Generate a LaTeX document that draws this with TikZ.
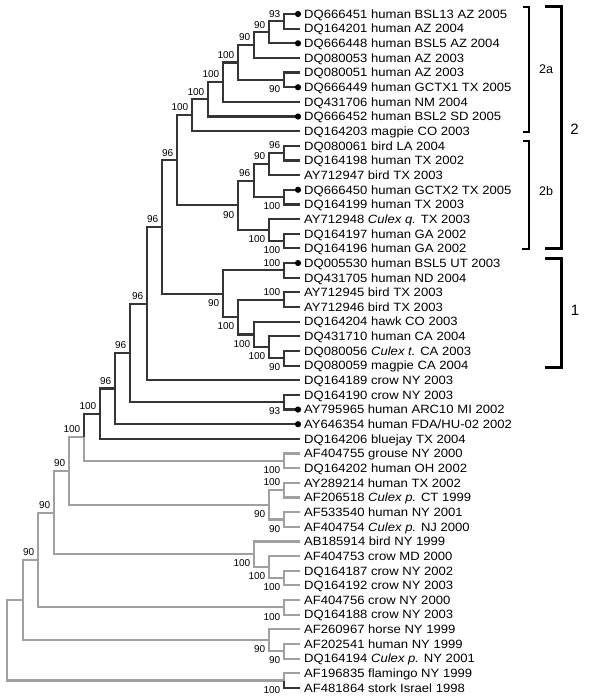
\documentclass[tikz,border=0pt]{standalone}
\usepackage{fontspec}
\setmainfont{Liberation Sans}
\newfontfamily\leaffont[FakeStretch=1.09]{Liberation Sans}
\usetikzlibrary{positioning}
\definecolor{wnline}{HTML}{353535}
\definecolor{nyline}{HTML}{A0A0A0}

\begin{document}
\begin{tikzpicture}[x=1pt,y=-1pt,
  dk/.style={draw=wnline,line width=2.2pt},
  gy/.style={draw=nyline,line width=2.2pt},
  leaf/.style={font=\fontsize{12}{12}\selectfont\leaffont,text height=8.6pt,text depth=0pt,right=4pt of #1},
  ba/.style={font=\fontsize{10}{10}\selectfont,above left=4pt and 3.5pt of #1},
  bb/.style={font=\fontsize{10}{10}\selectfont,below left=5.5pt and 3.5pt of #1},
  tip/.style={circle,fill=black,minimum size=6.2pt},
  thinbr/.style={draw=black,line width=1.3pt},
  thickbr/.style={draw=black,line width=3pt},
  clade/.style={font=\fontsize{#1}{#1}\selectfont}]
\tikzstyle{every node}+=[inner sep=0pt]
\useasboundingbox (0,0) rectangle (600,700);
% leaf tips
\coordinate (l1) at (300,14.00);
\coordinate (l2) at (300,28.65);
\coordinate (l3) at (300,43.30);
\coordinate (l4) at (300,57.95);
\coordinate (l5) at (300,72.60);
\coordinate (l6) at (300,87.25);
\coordinate (l7) at (300,101.90);
\coordinate (l8) at (300,116.55);
\coordinate (l9) at (300,131.20);
\coordinate (l10) at (300,145.85);
\coordinate (l11) at (300,160.50);
\coordinate (l12) at (300,175.15);
\coordinate (l13) at (300,189.80);
\coordinate (l14) at (300,204.45);
\coordinate (l15) at (300,219.10);
\coordinate (l16) at (300,233.75);
\coordinate (l17) at (300,248.40);
\coordinate (l18) at (300,263.05);
\coordinate (l19) at (300,277.70);
\coordinate (l20) at (300,292.35);
\coordinate (l21) at (300,307.00);
\coordinate (l22) at (300,321.65);
\coordinate (l23) at (300,336.30);
\coordinate (l24) at (300,350.95);
\coordinate (l25) at (300,365.60);
\coordinate (l26) at (300,380.25);
\coordinate (l27) at (300,394.90);
\coordinate (l28) at (300,409.55);
\coordinate (l29) at (300,424.20);
\coordinate (l30) at (300,438.85);
\coordinate (l31) at (300,453.50);
\coordinate (l32) at (300,468.15);
\coordinate (l33) at (300,482.80);
\coordinate (l34) at (300,497.45);
\coordinate (l35) at (300,512.10);
\coordinate (l36) at (300,526.75);
\coordinate (l37) at (300,541.40);
\coordinate (l38) at (300,556.05);
\coordinate (l39) at (300,570.70);
\coordinate (l40) at (300,585.35);
\coordinate (l41) at (300,600.00);
\coordinate (l42) at (300,614.65);
\coordinate (l43) at (300,629.30);
\coordinate (l44) at (300,643.95);
\coordinate (l45) at (300,658.60);
\coordinate (l46) at (300,673.25);
\coordinate (l47) at (300,687.90);
% inner nodes
\coordinate (n1) at (284,21.33);
\coordinate (n2) at (269,32.31);
\coordinate (n3) at (254,45.13);
\coordinate (n4) at (284,79.93);
\coordinate (n5) at (238,62.53);
\coordinate (n6) at (223,82.21);
\coordinate (n7) at (208,99.38);
\coordinate (n8) at (192,115.29);
\coordinate (n9) at (284,153.18);
\coordinate (n10) at (269,164.16);
\coordinate (n11) at (284,197.13);
\coordinate (n12) at (254,180.64);
\coordinate (n13) at (284,241.08);
\coordinate (n14) at (269,230.09);
\coordinate (n15) at (238,205.36);
\coordinate (n16) at (177,160.33);
\coordinate (n17) at (284,270.38);
\coordinate (n18) at (284,299.68);
\coordinate (n19) at (284,358.28);
\coordinate (n20) at (269,347.29);
\coordinate (n21) at (254,334.47);
\coordinate (n22) at (238,317.08);
\coordinate (n23) at (223,293.73);
\coordinate (n24) at (162,227.03);
\coordinate (n25) at (147,303.64);
\coordinate (n26) at (284,402.23);
\coordinate (n27) at (130,352.94);
\coordinate (n28) at (115,388.57);
\coordinate (n29) at (100,413.71);
\coordinate (n30) at (284,460.83);
\coordinate (n31) at (84,437.27);
\coordinate (n32) at (284,490.13);
\coordinate (n33) at (284,519.43);
\coordinate (n34) at (269,504.78);
\coordinate (n35) at (69,471.03);
\coordinate (n36) at (284,578.03);
\coordinate (n37) at (269,567.04);
\coordinate (n38) at (254,554.22);
\coordinate (n39) at (54,512.63);
\coordinate (n40) at (284,607.33);
\coordinate (n41) at (38,559.98);
\coordinate (n42) at (284,651.28);
\coordinate (n43) at (269,640.29);
\coordinate (n44) at (23,600.14);
\coordinate (n45) at (284,680.58);
\coordinate (n46) at (7,640.36);
% NY99 branches
\draw [gy] (n30) |- (l31) (n30) |- (l32) (n31) |- (n30);
\draw [gy] (n32) |- (l33) (n32) |- (l34) (n33) |- (l35) (n33) |- (l36);
\draw [gy] (n34) |- (n32) (n34) |- (n33) (n35) |- (n31) (n35) |- (n34);
\draw [gy] (n36) |- (l39) (n36) |- (l40) (n37) |- (l38) (n37) |- (n36);
\draw [gy] (n38) |- (l37) (n38) |- (n37) (n39) |- (n35) (n39) |- (n38);
\draw [gy] (n40) |- (l41) (n40) |- (l42) (n41) |- (n39) (n41) |- (n40);
\draw [gy] (n42) |- (l44) (n42) |- (l45) (n43) |- (l43) (n43) |- (n42);
\draw [gy] (n44) |- (n41) (n44) |- (n43) (n46) |- (n44) (n46) |- (n45);
\draw [gy] (n45) |- (l46);
% WN02 branches
\draw [dk] (n1) |- (l1) (n1) |- (l2) (n2) |- (n1) (n2) |- (l3);
\draw [dk] (n3) |- (n2) (n3) |- (l4) (n4) |- (l5) (n4) |- (l6);
\draw [dk] (n5) |- (n3) (n5) |- (n4) (n6) |- (n5) (n6) |- (l7);
\draw [dk] (n7) |- (n6) (n7) |- (l8) (n8) |- (n7) (n8) |- (l9);
\draw [dk] (n9) |- (l10) (n9) |- (l11) (n10) |- (n9) (n10) |- (l12);
\draw [dk] (n11) |- (l13) (n11) |- (l14) (n12) |- (n10) (n12) |- (n11);
\draw [dk] (n13) |- (l16) (n13) |- (l17) (n14) |- (l15) (n14) |- (n13);
\draw [dk] (n15) |- (n12) (n15) |- (n14) (n16) |- (n8) (n16) |- (n15);
\draw [dk] (n17) |- (l18) (n17) |- (l19) (n18) |- (l20) (n18) |- (l21);
\draw [dk] (n19) |- (l24) (n19) |- (l25) (n20) |- (l23) (n20) |- (n19);
\draw [dk] (n21) |- (l22) (n21) |- (n20) (n22) |- (n18) (n22) |- (n21);
\draw [dk] (n23) |- (n17) (n23) |- (n22) (n24) |- (n16) (n24) |- (n23);
\draw [dk] (n25) |- (n24) (n25) |- (l26) (n26) |- (l27) (n26) |- (l28);
\draw [dk] (n27) |- (n25) (n27) |- (n26) (n28) |- (n27) (n28) |- (l29);
\draw [dk] (n29) |- (n28) (n29) |- (l30) (n31) |- (n29);
\draw [dk] (n45) |- (l47);
% human isolate dots
\node [tip] (d1) at ([xshift=-2pt]l1) {};
\node [tip] (d3) at ([xshift=-2pt]l3) {};
\node [tip] (d6) at ([xshift=-2pt]l6) {};
\node [tip] (d8) at ([xshift=-2pt]l8) {};
\node [tip] (d13) at ([xshift=-2pt]l13) {};
\node [tip] (d18) at ([xshift=-2pt]l18) {};
\node [tip] (d28) at ([xshift=-2pt]l28) {};
\node [tip] (d29) at ([xshift=-2pt]l29) {};
% bootstrap values
\node [ba=n1] (b1) {93};
\node [ba=n2] (b2) {90};
\node [ba=n3] (b3) {90};
\node [bb=n4] (b4) {90};
\node [ba=n5] (b5) {100};
\node [ba=n6] (b6) {100};
\node [ba=n7] (b7) {100};
\node [ba=n8] (b8) {100};
\node [ba=n9] (b9) {96};
\node [ba=n10] (b10) {90};
\node [bb=n11] (b11) {100};
\node [ba=n12] (b12) {96};
\node [bb=n13] (b13) {100};
\node [bb=n14] (b14) {100};
\node [bb=n15] (b15) {90};
\node [ba=n16] (b16) {96};
\node [ba=n17] (b17) {100};
\node [ba=n18] (b18) {100};
\node [bb=n19] (b19) {90};
\node [bb=n20] (b20) {100};
\node [bb=n21] (b21) {100};
\node [bb=n22] (b22) {100};
\node [bb=n23] (b23) {90};
\node [ba=n24] (b24) {96};
\node [ba=n25] (b25) {96};
\node [bb=n26] (b26) {93};
\node [ba=n27] (b27) {96};
\node [ba=n28] (b28) {96};
\node [ba=n29] (b29) {100};
\node [bb=n30] (b30) {100};
\node [ba=n31] (b31) {100};
\node [ba=n32] (b32) {100};
\node [bb=n33] (b33) {90};
\node [bb=n34] (b34) {90};
\node [ba=n35] (b35) {90};
\node [bb=n36] (b36) {100};
\node [bb=n37] (b37) {100};
\node [bb=n38] (b38) {100};
\node [ba=n39] (b39) {90};
\node [bb=n40] (b40) {100};
\node [ba=n41] (b41) {90};
\node [bb=n42] (b42) {90};
\node [bb=n43] (b43) {90};
\node [bb=n45] (b45) {100};
% taxa
\node [leaf=l1] (t1) {DQ666451 human BSL13 AZ 2005};
\node [leaf=l2] (t2) {DQ164201 human AZ 2004};
\node [leaf=l3] (t3) {DQ666448 human BSL5 AZ 2004};
\node [leaf=l4] (t4) {DQ080053 human AZ 2003};
\node [leaf=l5] (t5) {DQ080051 human AZ 2003};
\node [leaf=l6] (t6) {DQ666449 human GCTX1 TX 2005};
\node [leaf=l7] (t7) {DQ431706 human NM 2004};
\node [leaf=l8] (t8) {DQ666452 human BSL2 SD 2005};
\node [leaf=l9] (t9) {DQ164203 magpie CO 2003};
\node [leaf=l10] (t10) {DQ080061 bird LA 2004};
\node [leaf=l11] (t11) {DQ164198 human TX 2002};
\node [leaf=l12] (t12) {AY712947 bird TX 2003};
\node [leaf=l13] (t13) {DQ666450 human GCTX2 TX 2005};
\node [leaf=l14] (t14) {DQ164199 human TX 2003};
\node [leaf=l15] (t15) {AY712948 \textit{Culex q.} TX 2003};
\node [leaf=l16] (t16) {DQ164197 human GA 2002};
\node [leaf=l17] (t17) {DQ164196 human GA 2002};
\node [leaf=l18] (t18) {DQ005530 human BSL5 UT 2003};
\node [leaf=l19] (t19) {DQ431705 human ND 2004};
\node [leaf=l20] (t20) {AY712945 bird TX 2003};
\node [leaf=l21] (t21) {AY712946 bird TX 2003};
\node [leaf=l22] (t22) {DQ164204 hawk CO 2003};
\node [leaf=l23] (t23) {DQ431710 human CA 2004};
\node [leaf=l24] (t24) {DQ080056 \textit{Culex t.} CA 2003};
\node [leaf=l25] (t25) {DQ080059 magpie CA 2004};
\node [leaf=l26] (t26) {DQ164189 crow NY 2003};
\node [leaf=l27] (t27) {DQ164190 crow NY 2003};
\node [leaf=l28] (t28) {AY795965 human ARC10 MI 2002};
\node [leaf=l29] (t29) {AY646354 human FDA/HU-02 2002};
\node [leaf=l30] (t30) {DQ164206 bluejay TX 2004};
\node [leaf=l31] (t31) {AF404755 grouse NY 2000};
\node [leaf=l32] (t32) {DQ164202 human OH 2002};
\node [leaf=l33] (t33) {AY289214 human TX 2002};
\node [leaf=l34] (t34) {AF206518 \textit{Culex p.} CT 1999};
\node [leaf=l35] (t35) {AF533540 human NY 2001};
\node [leaf=l36] (t36) {AF404754 \textit{Culex p.} NJ 2000};
\node [leaf=l37] (t37) {AB185914 bird NY 1999};
\node [leaf=l38] (t38) {AF404753 crow MD 2000};
\node [leaf=l39] (t39) {DQ164187 crow NY 2002};
\node [leaf=l40] (t40) {DQ164192 crow NY 2003};
\node [leaf=l41] (t41) {AF404756 crow NY 2000};
\node [leaf=l42] (t42) {DQ164188 crow NY 2003};
\node [leaf=l43] (t43) {AF260967 horse NY 1999};
\node [leaf=l44] (t44) {AF202541 human NY 1999};
\node [leaf=l45] (t45) {DQ164194 \textit{Culex p.} NY 2001};
\node [leaf=l46] (t46) {AF196835 flamingo NY 1999};
\node [leaf=l47] (t47) {AF481864 stork Israel 1998};
% clade brackets
\draw [thinbr] (523,7) -- (529,7) -- (529,132) -- (523,132);
\draw [thinbr] (523,141) -- (529,141) -- (529,249) -- (522,249);
\draw [thickbr] (545,7) -- (561,7) -- (561,249) -- (545,249);
\draw [thickbr] (545,258) -- (561,258) -- (561,367) -- (545,367);
\node [clade=12.5] (c2a) at (546,69) {2a};
\node [clade=12.5] (c2b) at (546,191) {2b};
\node [clade=15] (c2) at (574.5,129.5) {2};
\node [clade=15] (c1) at (575,310.5) {1};
\end{tikzpicture}
\end{document}
